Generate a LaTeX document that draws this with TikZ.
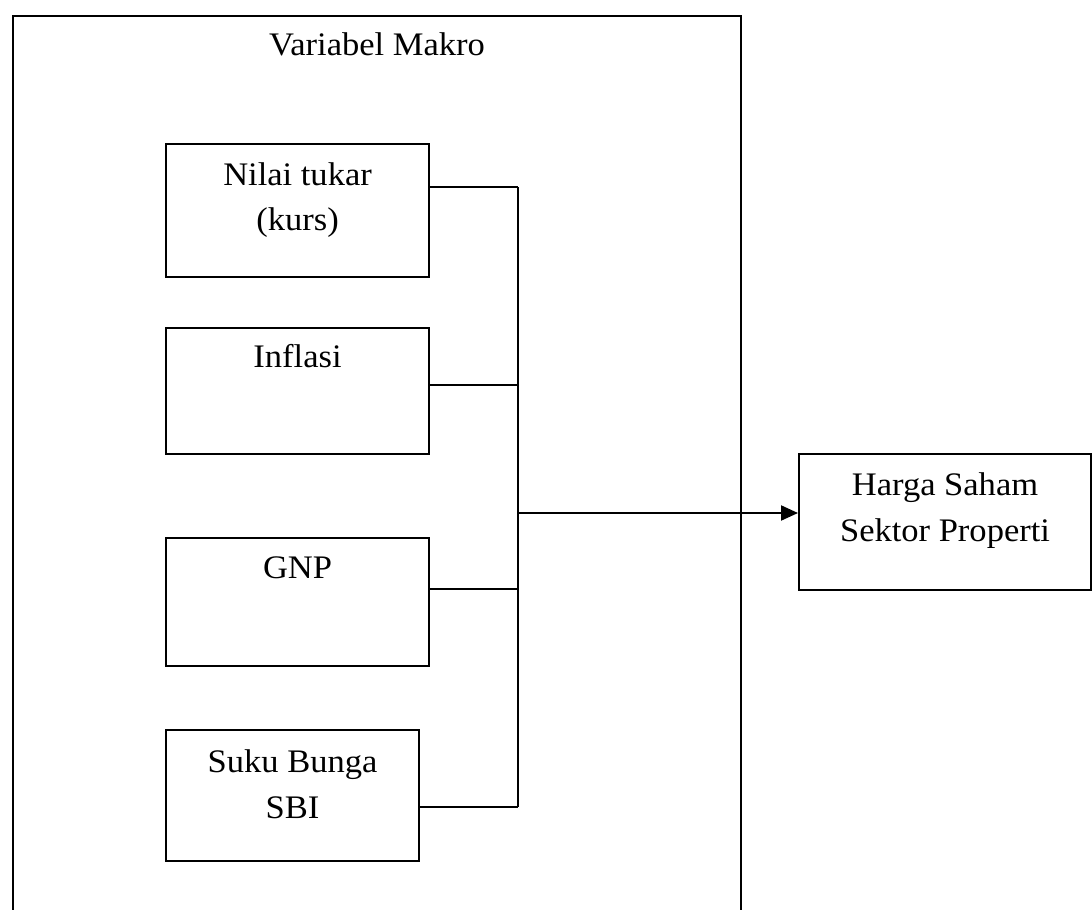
\documentclass[tikz,border=0pt]{standalone}
\usepackage{fontspec}
\setmainfont{Liberation Serif}[FakeStretch=1.05]
\usetikzlibrary{arrows.meta}
\begin{document}
\begin{tikzpicture}[x=1bp,y=-1bp,
  every node/.style={inner sep=0pt},
  frame/.style={draw,line width=2.1bp,rectangle,anchor=north west},
  txt/.style={anchor=base,font=\fontsize{33}{40}\selectfont},
  link/.style={line width=2.1bp},
  flow/.style={line width=2.1bp,-{Triangle[length=17bp,width=15bp]}}]
\useasboundingbox (0,0) rectangle (1092,910);
\clip (0,0) rectangle (1092,910);

% outer container (its lower edge runs past the page)
\node[frame,minimum width=728bp,minimum height=1000bp] (makro) at (12,15) {};
\node[txt] (makroT) at ([yshift=-40bp]makro.north) {Variabel Makro};

% macro variables
\node[frame,minimum width=263bp,minimum height=133bp] (kurs) at (165,143) {};
\node[txt] (kursA) at ([yshift=-42bp]kurs.north) {Nilai tukar};
\node[txt] (kursB) at ([yshift=-87bp]kurs.north) {(kurs)};

\node[frame,minimum width=263bp,minimum height=126bp] (inf) at (165,327) {};
\node[txt] (infA) at ([yshift=-40bp]inf.north) {Inflasi};

\node[frame,minimum width=263bp,minimum height=128bp] (gnp) at (165,537) {};
\node[txt] (gnpA) at ([yshift=-41bp]gnp.north) {GNP};

\node[frame,minimum width=253bp,minimum height=131bp] (sbi) at (165,729) {};
\node[txt] (sbiA) at ([yshift=-43bp]sbi.north) {Suku Bunga};
\node[txt] (sbiB) at ([yshift=-89bp]sbi.north) {SBI};

% dependent variable
\node[frame,minimum width=292bp,minimum height=136bp] (harga) at (798,453) {};
\node[txt] (hargaA) at ([yshift=-42bp]harga.north) {Harga Saham};
\node[txt] (hargaB) at ([yshift=-88bp]harga.north) {Sektor Properti};

% collecting bus
\coordinate (j1) at (518,187);
\coordinate (j2) at (518,385);
\coordinate (jm) at (518,513);
\coordinate (j3) at (518,589);
\coordinate (j4) at (518,807);

\draw[link] (j1 -| kurs.east) -- (j1);
\draw[link] (j2 -| inf.east) -- (j2);
\draw[link] (j3 -| gnp.east) -- (j3);
\draw[link] (j4 -| sbi.east) -- (j4);
\draw[link] (j1) -- (j4);
\draw[flow] (jm) -- (jm -| harga.west);
\end{tikzpicture}
\end{document}
